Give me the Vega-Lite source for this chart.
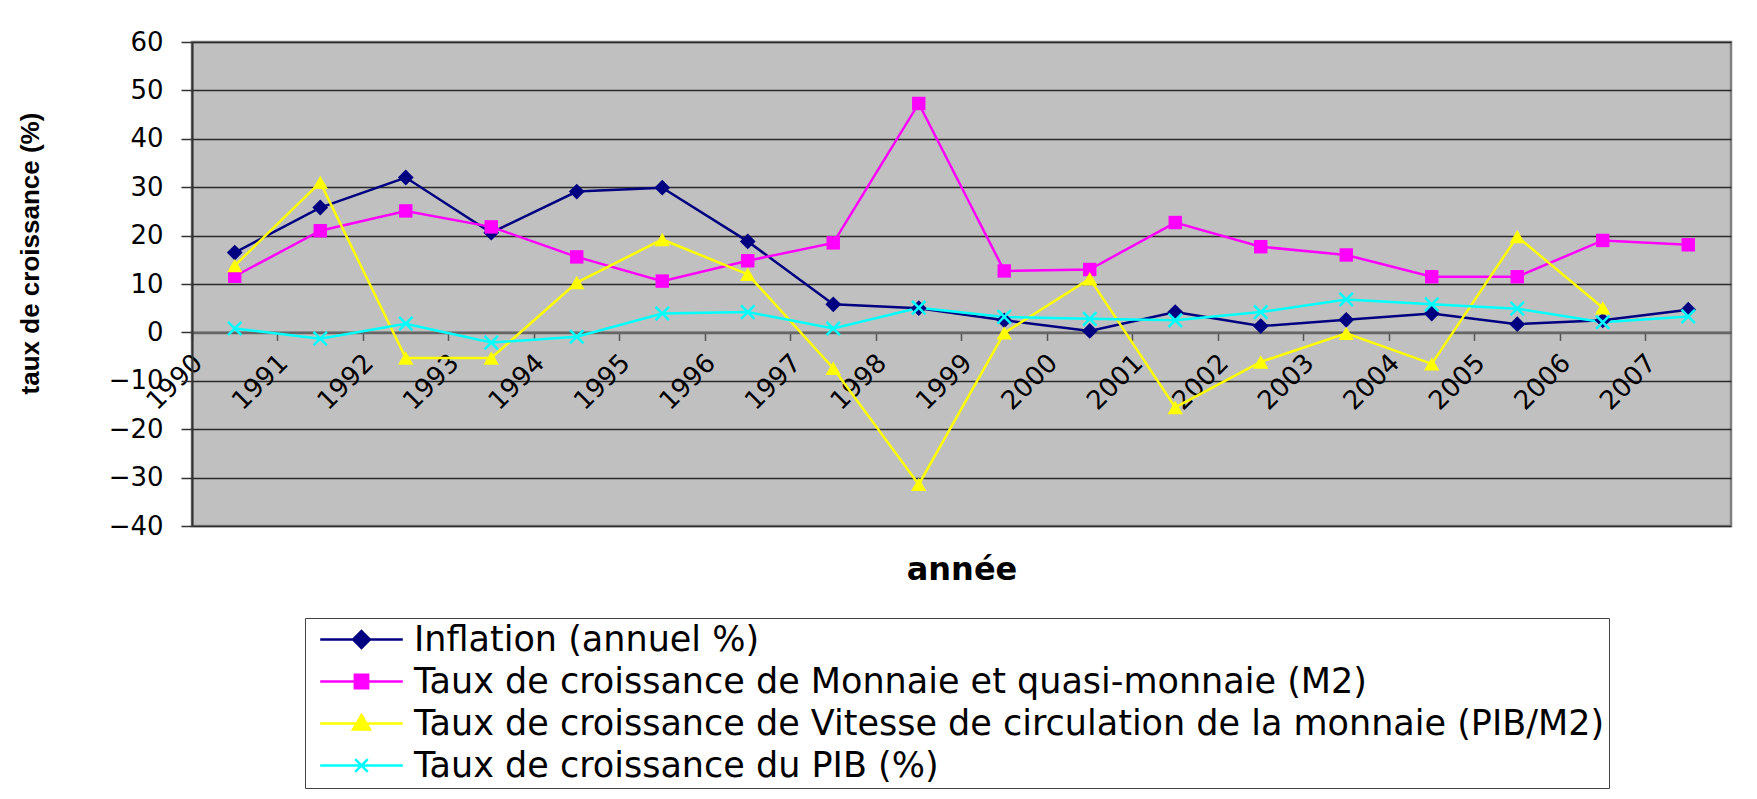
{
  "$schema": "https://vega.github.io/schema/vega-lite/v6.json",
  "width": 1539,
  "height": 484,
  "autosize": "none",
  "padding": {"left": 192, "top": 42, "right": 26, "bottom": 273},
  "background": "white",
  "data": {"values": [
    {"year": "1990", "series": "Inflation (annuel %)", "value": 16.5},
    {"year": "1991", "series": "Inflation (annuel %)", "value": 25.8},
    {"year": "1992", "series": "Inflation (annuel %)", "value": 32.0},
    {"year": "1993", "series": "Inflation (annuel %)", "value": 20.6},
    {"year": "1994", "series": "Inflation (annuel %)", "value": 29.1},
    {"year": "1995", "series": "Inflation (annuel %)", "value": 29.9},
    {"year": "1996", "series": "Inflation (annuel %)", "value": 18.8},
    {"year": "1997", "series": "Inflation (annuel %)", "value": 5.8},
    {"year": "1998", "series": "Inflation (annuel %)", "value": 5.0},
    {"year": "1999", "series": "Inflation (annuel %)", "value": 2.5},
    {"year": "2000", "series": "Inflation (annuel %)", "value": 0.3},
    {"year": "2001", "series": "Inflation (annuel %)", "value": 4.2},
    {"year": "2002", "series": "Inflation (annuel %)", "value": 1.3},
    {"year": "2003", "series": "Inflation (annuel %)", "value": 2.6},
    {"year": "2004", "series": "Inflation (annuel %)", "value": 3.9},
    {"year": "2005", "series": "Inflation (annuel %)", "value": 1.7},
    {"year": "2006", "series": "Inflation (annuel %)", "value": 2.5},
    {"year": "2007", "series": "Inflation (annuel %)", "value": 4.7},
    {"year": "1990", "series": "Taux de croissance de Monnaie et quasi-monnaie (M2)", "value": 11.6},
    {"year": "1991", "series": "Taux de croissance de Monnaie et quasi-monnaie (M2)", "value": 21.0},
    {"year": "1992", "series": "Taux de croissance de Monnaie et quasi-monnaie (M2)", "value": 25.1},
    {"year": "1993", "series": "Taux de croissance de Monnaie et quasi-monnaie (M2)", "value": 21.8},
    {"year": "1994", "series": "Taux de croissance de Monnaie et quasi-monnaie (M2)", "value": 15.6},
    {"year": "1995", "series": "Taux de croissance de Monnaie et quasi-monnaie (M2)", "value": 10.6},
    {"year": "1996", "series": "Taux de croissance de Monnaie et quasi-monnaie (M2)", "value": 14.8},
    {"year": "1997", "series": "Taux de croissance de Monnaie et quasi-monnaie (M2)", "value": 18.5},
    {"year": "1998", "series": "Taux de croissance de Monnaie et quasi-monnaie (M2)", "value": 47.3},
    {"year": "1999", "series": "Taux de croissance de Monnaie et quasi-monnaie (M2)", "value": 12.7},
    {"year": "2000", "series": "Taux de croissance de Monnaie et quasi-monnaie (M2)", "value": 13.0},
    {"year": "2001", "series": "Taux de croissance de Monnaie et quasi-monnaie (M2)", "value": 22.7},
    {"year": "2002", "series": "Taux de croissance de Monnaie et quasi-monnaie (M2)", "value": 17.7},
    {"year": "2003", "series": "Taux de croissance de Monnaie et quasi-monnaie (M2)", "value": 16.0},
    {"year": "2004", "series": "Taux de croissance de Monnaie et quasi-monnaie (M2)", "value": 11.5},
    {"year": "2005", "series": "Taux de croissance de Monnaie et quasi-monnaie (M2)", "value": 11.5},
    {"year": "2006", "series": "Taux de croissance de Monnaie et quasi-monnaie (M2)", "value": 19.0},
    {"year": "2007", "series": "Taux de croissance de Monnaie et quasi-monnaie (M2)", "value": 18.1},
    {"year": "1990", "series": "Taux de croissance de Vitesse de circulation de la monnaie (PIB/M2)", "value": 13.8},
    {"year": "1991", "series": "Taux de croissance de Vitesse de circulation de la monnaie (PIB/M2)", "value": 31.0},
    {"year": "1992", "series": "Taux de croissance de Vitesse de circulation de la monnaie (PIB/M2)", "value": -5.3},
    {"year": "1993", "series": "Taux de croissance de Vitesse de circulation de la monnaie (PIB/M2)", "value": -5.3},
    {"year": "1994", "series": "Taux de croissance de Vitesse de circulation de la monnaie (PIB/M2)", "value": 10.3},
    {"year": "1995", "series": "Taux de croissance de Vitesse de circulation de la monnaie (PIB/M2)", "value": 19.2},
    {"year": "1996", "series": "Taux de croissance de Vitesse de circulation de la monnaie (PIB/M2)", "value": 12.0},
    {"year": "1997", "series": "Taux de croissance de Vitesse de circulation de la monnaie (PIB/M2)", "value": -7.4},
    {"year": "1998", "series": "Taux de croissance de Vitesse de circulation de la monnaie (PIB/M2)", "value": -31.4},
    {"year": "1999", "series": "Taux de croissance de Vitesse de circulation de la monnaie (PIB/M2)", "value": -0.1},
    {"year": "2000", "series": "Taux de croissance de Vitesse de circulation de la monnaie (PIB/M2)", "value": 11.1},
    {"year": "2001", "series": "Taux de croissance de Vitesse de circulation de la monnaie (PIB/M2)", "value": -15.5},
    {"year": "2002", "series": "Taux de croissance de Vitesse de circulation de la monnaie (PIB/M2)", "value": -6.1},
    {"year": "2003", "series": "Taux de croissance de Vitesse de circulation de la monnaie (PIB/M2)", "value": -0.2},
    {"year": "2004", "series": "Taux de croissance de Vitesse de circulation de la monnaie (PIB/M2)", "value": -6.5},
    {"year": "2005", "series": "Taux de croissance de Vitesse de circulation de la monnaie (PIB/M2)", "value": 19.8},
    {"year": "2006", "series": "Taux de croissance de Vitesse de circulation de la monnaie (PIB/M2)", "value": 5.1},
    {"year": "1990", "series": "Taux de croissance du PIB (%)", "value": 0.8},
    {"year": "1991", "series": "Taux de croissance du PIB (%)", "value": -1.3},
    {"year": "1992", "series": "Taux de croissance du PIB (%)", "value": 1.8},
    {"year": "1993", "series": "Taux de croissance du PIB (%)", "value": -2.1},
    {"year": "1994", "series": "Taux de croissance du PIB (%)", "value": -0.9},
    {"year": "1995", "series": "Taux de croissance du PIB (%)", "value": 3.9},
    {"year": "1996", "series": "Taux de croissance du PIB (%)", "value": 4.2},
    {"year": "1997", "series": "Taux de croissance du PIB (%)", "value": 0.8},
    {"year": "1998", "series": "Taux de croissance du PIB (%)", "value": 5.1},
    {"year": "1999", "series": "Taux de croissance du PIB (%)", "value": 3.2},
    {"year": "2000", "series": "Taux de croissance du PIB (%)", "value": 2.8},
    {"year": "2001", "series": "Taux de croissance du PIB (%)", "value": 2.5},
    {"year": "2002", "series": "Taux de croissance du PIB (%)", "value": 4.2},
    {"year": "2003", "series": "Taux de croissance du PIB (%)", "value": 6.8},
    {"year": "2004", "series": "Taux de croissance du PIB (%)", "value": 5.8},
    {"year": "2005", "series": "Taux de croissance du PIB (%)", "value": 4.9},
    {"year": "2006", "series": "Taux de croissance du PIB (%)", "value": 2.1},
    {"year": "2007", "series": "Taux de croissance du PIB (%)", "value": 3.3}
  ]},
  "encoding": {
    "x": {
      "field": "year", "type": "ordinal", "bandPosition": 0.5,
      "scale": {"type": "band", "paddingInner": 0, "paddingOuter": 0},
      "axis": {
        "title": "année", "bandPosition": 0, "offset": -193.6,
        "labelAngle": -45, "labelAlign": "right", "labelBaseline": "middle",
        "labelFont": "DejaVu Sans", "labelFontSize": 26, "labelColor": "black",
        "labelPadding": 18, "labelOffset": -36.5, "labelOverlap": false, "labelFlush": false,
        "tickSize": 8, "tickColor": "#555", "tickWidth": 1.5,
        "domainColor": "#666", "domainWidth": 2.5, "grid": false,
        "titleFont": "DejaVu Sans", "titleFontSize": 32, "titleFontWeight": "bold",
        "titleColor": "black", "titlePadding": 140
      }
    },
    "y": {
      "field": "value", "type": "quantitative",
      "scale": {"domain": [-40, 60], "nice": false, "zero": false},
      "axis": {
        "title": "taux de croissance (%)",
        "values": [-40, -30, -20, -10, 0, 10, 20, 30, 40, 50, 60],
        "labelFont": "DejaVu Sans", "labelFontSize": 26, "labelColor": "black",
        "labelPadding": 18, "tickSize": 11, "tickColor": "#333", "tickWidth": 1.5,
        "domainColor": "#333", "domainWidth": 2,
        "grid": true, "gridColor": "#2a2a2a", "gridWidth": 1.3,
        "titleFont": "Liberation Sans", "titleFontSize": 26, "titleFontWeight": "bold",
        "titleColor": "black", "titlePadding": 65, "titleY": 211
      }
    }
  },
  "layer": [
    {
      "mark": {"type": "line", "strokeWidth": 2.5},
      "encoding": {
        "color": {
          "field": "series", "type": "nominal",
          "scale": {
            "domain": ["Inflation (annuel %)", "Taux de croissance de Monnaie et quasi-monnaie (M2)", "Taux de croissance de Vitesse de circulation de la monnaie (PIB/M2)", "Taux de croissance du PIB (%)"],
            "range": ["#000080", "#FF00FF", "#FFFF00", "#00FFFF"]
          },
          "legend": {
            "title": null, "orient": "none", "legendX": 113, "legendY": 576,
            "direction": "vertical",
            "labelFont": "DejaVu Sans", "labelFontSize": 35, "labelColor": "black", "labelLimit": 3000,
            "symbolSize": 196, "symbolStrokeWidth": 2.5, "symbolOffset": 35, "labelOffset": 35,
            "padding": 4, "rowPadding": 6, "strokeColor": "#444", "fillColor": "white",
            "encode": {
              "symbols": {
                "update": {
                  "shape": {"signal": "datum.value === 'Inflation (annuel %)' ? 'M-5.9,0H5.9M0,-1.2L1.2,0L0,1.2L-1.2,0Z' : datum.value === 'Taux de croissance de Monnaie et quasi-monnaie (M2)' ? 'M-5.9,0H5.9M-0.95,-0.95H0.95V0.95H-0.95Z' : datum.value === 'Taux de croissance du PIB (%)' ? 'M-5.9,0H5.9M-0.9,-0.9L0.9,0.9M-0.9,0.9L0.9,-0.9' : 'M-5.9,0H5.9M0,-1.2L1.2,0.85H-1.2Z'"},
                  "fill": {"scale": "color", "field": "value"},
                  "stroke": {"scale": "color", "field": "value"},
                  "strokeWidth": {"value": 2.5},
                  "size": {"value": 196},
                  "opacity": {"value": 1}
                }
              }
            }
          }
        }
      }
    },
    {
      "transform": [{"filter": {"field": "series", "equal": "Inflation (annuel %)"}}],
      "mark": {"type": "point", "shape": "diamond", "filled": true, "color": "#000080", "size": 250, "opacity": 1}
    },
    {
      "transform": [{"filter": {"field": "series", "equal": "Taux de croissance de Monnaie et quasi-monnaie (M2)"}}],
      "mark": {"type": "point", "shape": "square", "filled": true, "color": "#FF00FF", "size": 180, "opacity": 1}
    },
    {
      "transform": [{"filter": {"field": "series", "equal": "Taux de croissance de Vitesse de circulation de la monnaie (PIB/M2)"}}],
      "mark": {"type": "point", "shape": "triangle-up", "filled": true, "color": "#FFFF00", "size": 240, "opacity": 1}
    },
    {
      "transform": [{"filter": {"field": "series", "equal": "Taux de croissance du PIB (%)"}}],
      "mark": {"type": "point", "shape": "M-1,-1L1,1M-1,1L1,-1", "filled": false, "color": "#00FFFF", "size": 180, "strokeWidth": 2.5, "opacity": 1}
    }
  ],
  "config": {
    "font": "DejaVu Sans",
    "view": {"fill": "#C0C0C0", "stroke": "#808080", "strokeWidth": 2.5}
  }
}
